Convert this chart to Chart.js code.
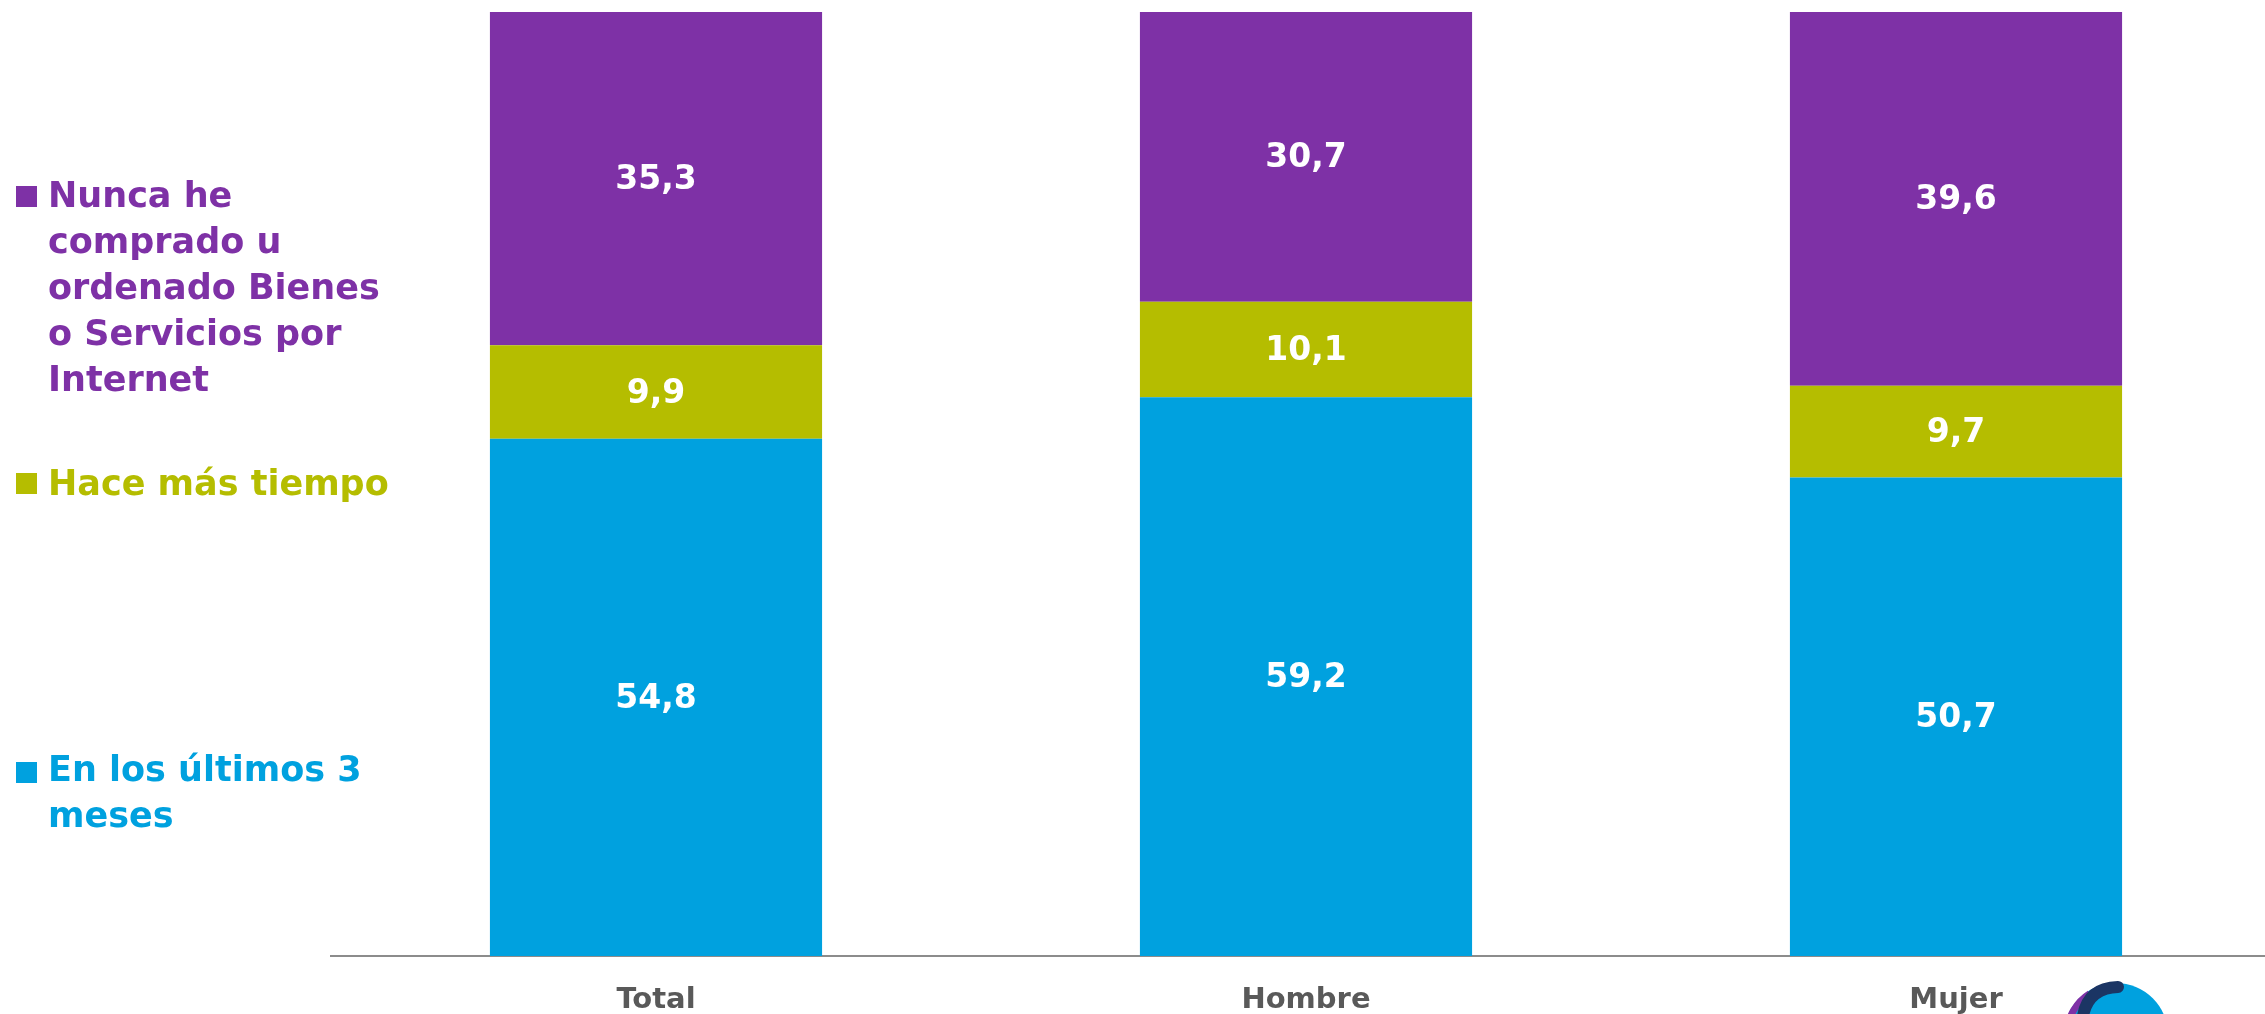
<!DOCTYPE html>
<html>
<head>
<meta charset="utf-8">
<script src="https://cdn.jsdelivr.net/npm/chart.js@4/dist/chart.umd.min.js"></script>
<style>
  html, body { margin: 0; padding: 0; background: #ffffff; overflow: hidden; width: 2265px; height: 1014px; }
  #wrap { position: absolute; left: 0; top: 0; width: 2281px; height: 1014px; }
  .leg { position: absolute; left: 0; font-family: "DejaVu Sans", sans-serif; font-weight: bold; font-size: 35px; line-height: 46px; }
  .leg .sq { position: absolute; left: 16px; width: 21px; height: 21px; }
  .leg .tx { position: absolute; left: 48px; white-space: nowrap; }
</style>
</head>
<body>
<div id="wrap"><canvas id="c" width="2281" height="1014"></canvas></div>
<div id="legend"></div>
<script>
// ---- data ----
const categories = ['Total', 'Hombre', 'Mujer'];
const seriesNames = ['En los últimos 3 meses', 'Hace más tiempo', 'Nunca he comprado u ordenado Bienes o Servicios por Internet'];
const ultimos3Meses = [54.8, 59.2, 50.7];
const haceMasTiempo = [9.9, 10.1, 9.7];
const nuncaHeComprado = [35.3, 30.7, 39.6];
const legendLines = [
  ['En los últimos 3', 'meses'],
  ['Hace más tiempo'],
  ['Nunca he', 'comprado u', 'ordenado Bienes', 'o Servicios por', 'Internet']
];

// ---- styles ----
const colors = ['#00A1DF', '#B5BD00', '#7E31A6'];
const legendTops = [746, 460, 172];
const squareTops = [762, 473, 186];

// HTML legend built from series names / colors
const legEl = document.getElementById('legend');
[2, 1, 0].forEach(i => {
  const block = document.createElement('div');
  block.className = 'leg';
  block.style.top = '0px';
  const sq = document.createElement('div');
  sq.className = 'sq';
  sq.style.background = colors[i];
  sq.style.top = squareTops[i] + 'px';
  const tx = document.createElement('div');
  tx.className = 'tx';
  tx.style.top = legendTops[i] + 'px';
  tx.style.color = colors[i];
  tx.title = seriesNames[i];
  tx.innerHTML = legendLines[i].join('<br>');
  block.appendChild(sq);
  block.appendChild(tx);
  legEl.appendChild(block);
});

const valueLabels = {
  id: 'valueLabels',
  afterDatasetsDraw(chart) {
    const ctx = chart.ctx;
    ctx.save();
    ctx.font = 'bold 33px "DejaVu Sans"';
    ctx.fillStyle = '#ffffff';
    ctx.textAlign = 'center';
    ctx.textBaseline = 'middle';
    chart.data.datasets.forEach((ds, di) => {
      const meta = chart.getDatasetMeta(di);
      meta.data.forEach((bar, i) => {
        const p = bar.getProps(['x', 'y', 'base'], true);
        const v = ds.data[i];
        ctx.fillText(v.toFixed(1).replace('.', ','), p.x, (p.y + p.base) / 2 + 2);
      });
    });
    ctx.restore();
  }
};

const logo = {
  id: 'logo',
  afterDraw(chart) {
    const ctx = chart.ctx;
    const cx = 2116, cy = 1035, r = 52;
    ctx.save();
    ctx.beginPath();
    ctx.arc(cx, cy, r, 0, Math.PI * 2);
    ctx.fillStyle = '#00A1DF';
    ctx.fill();
    ctx.beginPath();
    ctx.arc(cx, cy, r - 3, Math.PI * 1.02, Math.PI * 1.32);
    ctx.strokeStyle = '#7E31A6';
    ctx.lineWidth = 7;
    ctx.stroke();
    ctx.beginPath();
    ctx.moveTo(2083, 1016);
    ctx.quadraticCurveTo(2088, 988, 2118, 987);
    ctx.strokeStyle = '#1B3564';
    ctx.lineWidth = 12;
    ctx.lineCap = 'round';
    ctx.stroke();
    ctx.restore();
  }
};

new Chart(document.getElementById('c'), {
  type: 'bar',
  data: {
    labels: categories,
    datasets: [
      { label: seriesNames[0], data: ultimos3Meses, backgroundColor: colors[0] },
      { label: seriesNames[1], data: haceMasTiempo, backgroundColor: colors[1] },
      { label: seriesNames[2], data: nuncaHeComprado, backgroundColor: colors[2] }
    ]
  },
  options: {
    responsive: false,
    devicePixelRatio: 1,
    animation: false,
    layout: { padding: { left: 331, top: 12, right: 0, bottom: 0 } },
    datasets: { bar: { barPercentage: 0.511, categoryPercentage: 1.0, borderWidth: 0 } },
    plugins: { legend: { display: false }, tooltip: { enabled: false } },
    scales: {
      x: {
        stacked: true,
        grid: { display: false, drawTicks: false },
        border: { display: true, color: '#8C8C8C', width: 2 },
        ticks: { color: '#595959', font: { family: 'DejaVu Sans', weight: 'bold', size: 29 }, padding: 27 },
        afterFit(scale) { scale.height = 58; }
      },
      y: { stacked: true, display: false, min: 0, max: 100 }
    }
  },
  plugins: [valueLabels, logo]
});
</script>
</body>
</html>
